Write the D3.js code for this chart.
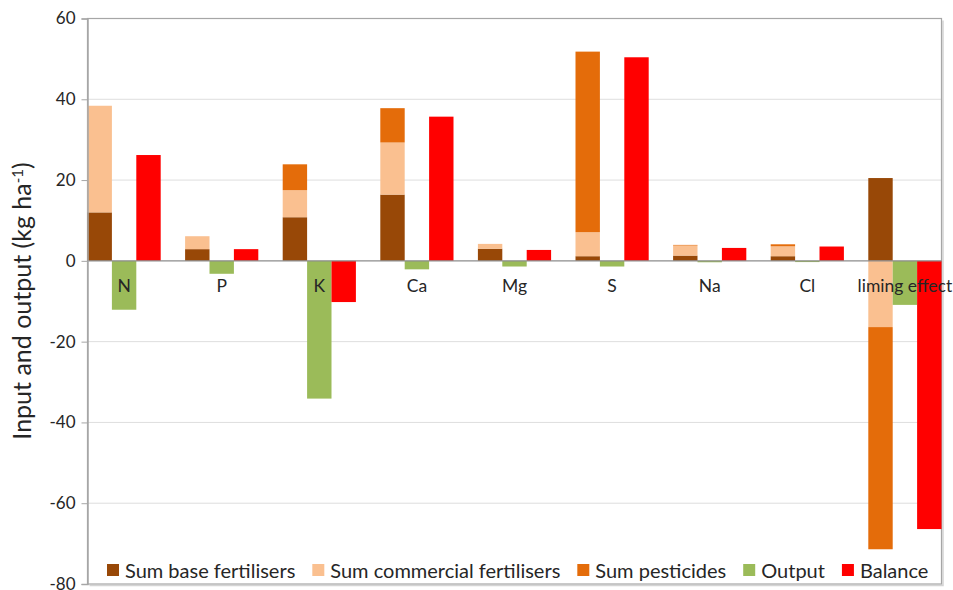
<!DOCTYPE html>
<html lang="en">
<head>
    <meta charset="UTF-8">
    <title>nutrient balance</title>
    <script src="https://cdn.jsdelivr.net/npm/d3@7"></script>
    <style>
        body{
            margin: 0;
            background: white;
        }
        text{
            font-family: "Lato", "Liberation Sans", sans-serif;
            fill: #262626;
        }
    </style>
</head>
<body>
<svg id="chart" width="953" height="590"></svg>
<script>
    // data (kg/ha)
    let categories = ["N", "P", "K", "Ca", "Mg", "S", "Na", "Cl", "liming effect"]
    let baseFert = [12.0, 2.9, 10.8, 16.4, 3.0, 1.15, 1.3, 1.15, 20.5]
    let commFert = [26.4, 3.2, 6.7, 12.9, 1.2, 5.95, 2.5, 2.45, -16.4]
    let pesticides = [0, 0, 6.4, 8.5, 0, 44.7, 0.15, 0.5, -55.0]
    let output = [-12.1, -3.2, -34.1, -2.1, -1.4, -1.4, -0.35, -0.3, -10.9]
    let balance = [26.2, 2.9, -10.2, 35.7, 2.7, 50.4, 3.2, 3.55, -66.4]
    let yTicks = [-80, -60, -40, -20, 0, 20, 40, 60]

    let seriesNames = ["Sum base fertilisers", "Sum commercial fertilisers", "Sum pesticides", "Output", "Balance"]
    let colors = ["#984807", "#FAC090", "#E46C0A", "#9BBB59", "#FF0000"]

    let svg = d3.select("#chart")
    let pLeft = 87.5, pRight = 941.5, pTop = 18.5, pBottom = 584
    let step = (pRight - pLeft) / 8.75

    let y = d3.scaleLinear().domain([-80, 60]).range([pBottom, pTop])
    let x = d3.scaleBand().domain(categories).range([pLeft, pLeft + step * 9])
    let sub = d3.scaleBand().domain(["input", "output", "balance"]).range([0, x.bandwidth() * 0.75])

    // table for the stacked input bars
    let rows = categories.map((c, i) => ({cat: c, base: baseFert[i], comm: commFert[i], pest: pesticides[i]}))
    let stack = d3.stack().keys(["base", "comm", "pest"]).offset(d3.stackOffsetDiverging)
    let stacked = stack(rows)

    // gridlines
    svg.append("g")
        .selectAll("line")
        .data(yTicks.filter(d => d !== 0 && d !== 60 && d !== -80))
        .enter().append("line")
        .attr("x1", pLeft).attr("x2", pRight)
        .attr("y1", d => y(d)).attr("y2", d => y(d))
        .attr("stroke", "#dedede")
        .attr("stroke-width", 1)

    // plot border with a light shadow
    svg.append("path")
        .attr("d", `M${pLeft + 2},${pBottom + 1.5} H${pRight + 1.5} V${pTop + 2}`)
        .attr("fill", "none").attr("stroke", "#d4d4d4").attr("stroke-width", 1.5)
    svg.append("rect")
        .attr("x", pLeft).attr("y", pTop)
        .attr("width", pRight - pLeft).attr("height", pBottom - pTop)
        .attr("fill", "none").attr("stroke", "#a6a6a6").attr("stroke-width", 1.2)

    // stacked inputs
    svg.append("g")
        .selectAll("g")
        .data(stacked)
        .enter().append("g")
        .attr("fill", (d, i) => colors[i])
        .selectAll("rect")
        .data(d => d)
        .enter().append("rect")
        .attr("x", d => x(d.data.cat) + sub("input"))
        .attr("width", sub.bandwidth())
        .attr("y", d => y(Math.max(d[0], d[1])))
        .attr("height", d => Math.abs(y(d[0]) - y(d[1])))

    // output
    svg.append("g")
        .selectAll("rect")
        .data(output)
        .enter().append("rect")
        .attr("fill", colors[3])
        .attr("x", (d, i) => x(categories[i]) + sub("output"))
        .attr("width", sub.bandwidth())
        .attr("y", d => y(Math.max(0, d)))
        .attr("height", d => Math.abs(y(d) - y(0)))

    // balance
    svg.append("g")
        .selectAll("rect")
        .data(balance)
        .enter().append("rect")
        .attr("fill", colors[4])
        .attr("x", (d, i) => x(categories[i]) + sub("balance"))
        .attr("width", sub.bandwidth())
        .attr("y", d => y(Math.max(0, d)))
        .attr("height", d => Math.abs(y(d) - y(0)))

    // zero line
    svg.append("line")
        .attr("x1", pLeft).attr("x2", pRight)
        .attr("y1", y(0)).attr("y2", y(0))
        .attr("stroke", "#8c8c8c").attr("stroke-width", 1.2)

    // y axis
    let yAxis = svg.append("g")
        .attr("transform", `translate(${pLeft},0)`)
        .call(d3.axisLeft(y).tickValues(yTicks).tickFormat(d => String(d)).tickSize(6).tickPadding(6))
    yAxis.select(".domain").attr("stroke", "#a6a6a6").attr("stroke-width", 1.5)
    yAxis.selectAll(".tick line").attr("stroke", "#a6a6a6")
    yAxis.selectAll(".tick text")
        .style("font-family", "Lato, 'Liberation Sans', sans-serif")
        .style("font-size", "17px")
        .attr("fill", "#333")

    // category labels, on top of the bars
    svg.append("g")
        .selectAll("text")
        .data(categories)
        .enter().append("text")
        .attr("x", d => x(d) + sub("output") + sub.bandwidth() / 2)
        .attr("y", y(0) + 31)
        .attr("text-anchor", "middle")
        .style("font-size", "17.5px")
        .text(d => d)

    // y title
    let title = svg.append("text")
        .attr("transform", "translate(31,301) rotate(-90)")
        .attr("text-anchor", "middle")
        .style("font-size", "25px")
    title.append("tspan").text("Input and output (kg ha")
    title.append("tspan").attr("dy", -8).style("font-size", "15px").text("-1")
    title.append("tspan").attr("dy", 8).text(")")

    // legend
    let legend = svg.append("g")
    let lx = 107
    seriesNames.forEach((name, i) => {
        legend.append("rect")
            .attr("x", lx).attr("y", 564)
            .attr("width", 12).attr("height", 12)
            .attr("fill", colors[i])
        let t = legend.append("text")
            .attr("x", lx + 18).attr("y", 578)
            .style("font-size", "20px")
            .text(name)
        lx += 18 + t.node().getComputedTextLength() + 17
    })
</script>
</body>
</html>
